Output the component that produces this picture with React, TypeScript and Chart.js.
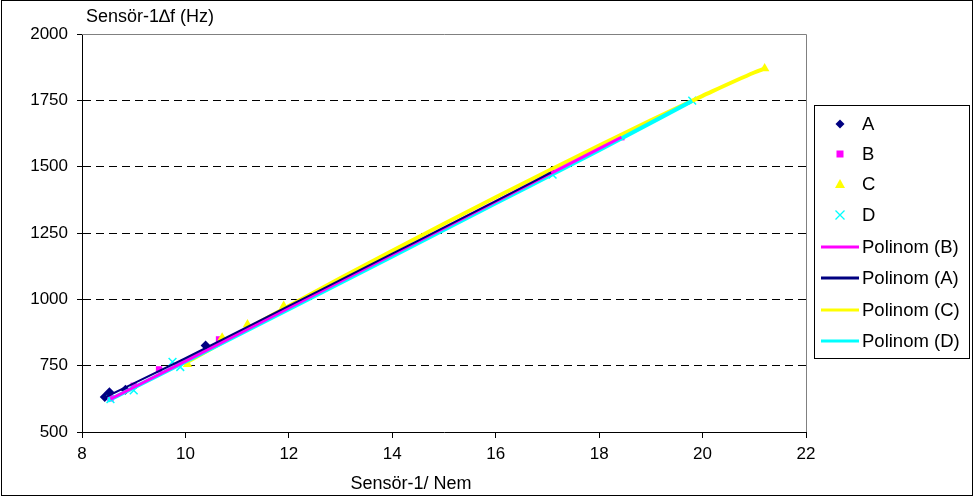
import React, { useEffect, useRef } from "react";
import { Chart, registerables } from "chart.js";

Chart.register(...registerables);

// Measured series (x = Sensör-1 / Nem, y = Δf Hz)
const seriesA_x = [8.44, 8.53, 8.84, 10.39, 17.07];
const seriesA_y = [632, 650, 659, 826, 1480];
const seriesB_x = [8.55, 9.0, 9.49, 10.65, 18.43];
const seriesB_y = [627, 674, 736, 849, 1611];
const seriesC_x = [10.04, 10.71, 11.2, 11.9, 21.2];
const seriesC_y = [755, 855, 905, 975, 1870];
const seriesD_x = [8.55, 9.0, 9.75, 9.9, 17.1, 19.8];
const seriesD_y = [624, 657, 764, 745, 1470, 1749];

// Polynomial trend lines
const polyA_x = [8.44, 10, 12, 14, 16, 17.07];
const polyA_y = [630, 778, 975, 1172, 1370, 1478];
const polyB_x = [8.55, 10, 12, 14, 16, 18, 18.43];
const polyB_y = [624, 767, 968, 1168, 1368, 1568, 1611];
const polyC_x = [10.0, 11, 12, 13, 14, 15, 16, 17, 18, 19, 20, 21, 21.2];
const polyC_y = [760, 868, 975, 1080, 1183, 1285, 1385, 1483, 1580, 1675, 1767, 1855, 1870];
const polyD_x = [8.5, 10, 12, 14, 16, 18, 19.8];
const polyD_y = [618, 765, 963, 1162, 1362, 1562, 1748];

const xTicks = [8, 10, 12, 14, 16, 18, 20, 22];
const yTicks = [500, 750, 1000, 1250, 1500, 1750, 2000];

const yTitle = "Sensör-1∆f (Hz)";
const xTitle = "Sensör-1/ Nem";

const FONT = "'Liberation Sans', Arial, sans-serif";

const pts = (xs: number[], ys: number[]) => xs.map((x, i) => ({ x, y: ys[i] }));

const legendItems = [
  { label: "A", kind: "diamond", color: "#000080" },
  { label: "B", kind: "square", color: "#FF00FF" },
  { label: "C", kind: "triangle", color: "#FFFF00" },
  { label: "D", kind: "x", color: "#00FFFF" },
  { label: "Polinom (B)", kind: "line", color: "#FF00FF" },
  { label: "Polinom (A)", kind: "line", color: "#000080" },
  { label: "Polinom (C)", kind: "line", color: "#FFFF00" },
  { label: "Polinom (D)", kind: "line", color: "#00FFFF" },
];

const decorPlugin = {
  id: "decor",
  afterDraw(chart: any) {
    const ctx = chart.ctx as CanvasRenderingContext2D;
    const a = chart.chartArea;
    ctx.save();
    ctx.strokeStyle = "#808080";
    ctx.lineWidth = 1;
    ctx.beginPath();
    ctx.moveTo(a.left, a.top + 0.5);
    ctx.lineTo(a.right + 0.5, a.top + 0.5);
    ctx.lineTo(a.right + 0.5, a.bottom);
    ctx.stroke();
    ctx.strokeStyle = "#000";
    ctx.strokeRect(1.5, 0.5, 971, 495);
    ctx.fillStyle = "#000";
    ctx.font = `18px ${FONT}`;
    ctx.textBaseline = "middle";
    ctx.textAlign = "left";
    ctx.fillText(yTitle, 86, 17);
    ctx.textAlign = "center";
    ctx.fillText(xTitle, 411, 484);
    const lx = 814, ly = 105, lw = 155, lh = 253;
    ctx.fillStyle = "#fff";
    ctx.fillRect(lx, ly, lw, lh);
    ctx.strokeStyle = "#000";
    ctx.strokeRect(lx + 0.5, ly + 0.5, lw, lh);
    const rowYs = [124, 154, 184, 215, 247, 278, 310, 341];
    legendItems.forEach((it, i) => {
      const y = rowYs[i];
      const cx = 840;
      ctx.fillStyle = it.color;
      ctx.strokeStyle = it.color;
      if (it.kind === "diamond") {
        ctx.beginPath();
        ctx.moveTo(cx, y - 4.5);
        ctx.lineTo(cx + 4.5, y);
        ctx.lineTo(cx, y + 4.5);
        ctx.lineTo(cx - 4.5, y);
        ctx.closePath();
        ctx.fill();
      } else if (it.kind === "square") {
        ctx.fillRect(cx - 3.5, y - 3.5, 7, 7);
      } else if (it.kind === "triangle") {
        ctx.beginPath();
        ctx.moveTo(cx, y - 5);
        ctx.lineTo(cx + 5, y + 4);
        ctx.lineTo(cx - 5, y + 4);
        ctx.closePath();
        ctx.fill();
      } else if (it.kind === "x") {
        ctx.lineWidth = 1.3;
        ctx.beginPath();
        ctx.moveTo(cx - 4.5, y - 4.5);
        ctx.lineTo(cx + 4.5, y + 4.5);
        ctx.moveTo(cx + 4.5, y - 4.5);
        ctx.lineTo(cx - 4.5, y + 4.5);
        ctx.stroke();
      } else {
        ctx.lineWidth = 3;
        ctx.beginPath();
        ctx.moveTo(821, y);
        ctx.lineTo(859, y);
        ctx.stroke();
      }
      ctx.fillStyle = "#000";
      ctx.font = `18.5px ${FONT}`;
      ctx.textAlign = "left";
      ctx.textBaseline = "middle";
      ctx.fillText(it.label, 862, y + 1);
    });
    ctx.restore();
  },
};

export default function App() {
  const ref = useRef<HTMLCanvasElement | null>(null);
  useEffect(() => {
    if (!ref.current) return;
    const lineDs = (label: string, xs: number[], ys: number[], color: string, w: number, order: number) => ({
      label,
      data: pts(xs, ys),
      showLine: true,
      borderColor: color,
      backgroundColor: color,
      borderWidth: w,
      pointRadius: 0,
      cubicInterpolationMode: "monotone",
      order,
    });
    const markDs = (label: string, xs: number[], ys: number[], color: string, style: string, r: number, order: number) => ({
      label,
      data: pts(xs, ys),
      showLine: false,
      pointStyle: style,
      pointRadius: r,
      backgroundColor: color,
      borderColor: color,
      borderWidth: style === "crossRot" ? 1.5 : 0,
      order,
    });
    const chart = new Chart(ref.current, {
      type: "scatter",
      data: {
        datasets: [
          markDs("A", seriesA_x, seriesA_y, "#000080", "rectRot", 5, 8),
          markDs("B", seriesB_x, seriesB_y, "#FF00FF", "rect", 4.5, 7),
          markDs("C", seriesC_x, seriesC_y, "#FFFF00", "triangle", 5.5, 6),
          markDs("D", seriesD_x, seriesD_y, "#00FFFF", "crossRot", 5.5, 5),
          lineDs("Polinom (C)", polyC_x, polyC_y, "#FFFF00", 4, 4),
          lineDs("Polinom (D)", polyD_x, polyD_y, "#00FFFF", 4, 3),
          lineDs("Polinom (B)", polyB_x, polyB_y, "#FF00FF", 3, 2),
          lineDs("Polinom (A)", polyA_x, polyA_y, "#000080", 2, 1),
        ] as any,
      },
      options: {
        responsive: false,
        animation: false,
        devicePixelRatio: 1,
        layout: { padding: { left: 0, top: 34, right: 168, bottom: 0 } },
        plugins: { legend: { display: false }, tooltip: { enabled: false }, title: { display: false } },
        scales: {
          x: {
            type: "linear",
            min: 8,
            max: 22,
            afterBuildTicks: (s: any) => {
              s.ticks = xTicks.map((v) => ({ value: v }));
            },
            afterFit: (s: any) => {
              s.height = 66;
            },
            grid: { drawOnChartArea: false, drawTicks: true, tickLength: 6, tickColor: "#000" },
            border: { display: true, color: "#000", width: 1 },
            ticks: { color: "#000", font: { family: FONT, size: 17 }, padding: 6, maxRotation: 0, callback: (v: any) => String(v) },
          },
          y: {
            type: "linear",
            min: 500,
            max: 2000,
            afterBuildTicks: (s: any) => {
              s.ticks = yTicks.map((v) => ({ value: v }));
            },
            afterFit: (s: any) => {
              s.width = 82;
            },
            grid: {
              drawTicks: true,
              tickLength: 5,
              tickColor: "#000",
              tickBorderDash: [],
              color: (c: any) => (c.tick && (c.tick.value === 500 || c.tick.value === 2000) ? "rgba(0,0,0,0)" : "#000"),
              lineWidth: 1,
            } as any,
            border: { display: true, color: "#000", width: 1, dash: [8, 5] },
            ticks: { color: "#000", font: { family: FONT, size: 17 }, padding: 9, callback: (v: any) => String(v) },
          },
        },
      },
      plugins: [decorPlugin],
    } as any);
    return () => chart.destroy();
  }, []);
  return (
    <div style={{ position: "fixed", left: 0, top: 0, width: 974, height: 498, background: "#fff" }}>
      <canvas ref={ref} width={974} height={498} style={{ display: "block" }} />
    </div>
  );
}
